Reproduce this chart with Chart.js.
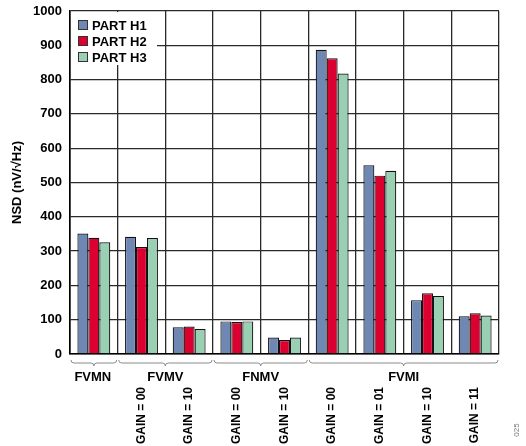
<!DOCTYPE html>
<html>
<head>
<meta charset="utf-8">
<script src="https://cdn.jsdelivr.net/npm/chart.js@4"></script>
<style>
    html, body { margin: 0; padding: 0; background: #fff; }
    #wrap { width: 526px; height: 446px; position: relative; }
</style>
</head>
<body>
<div id="wrap"><canvas id="myChart" width="526" height="446"></canvas></div>
<script>
// data
const categories = ['', 'GAIN = 00', 'GAIN = 10', 'GAIN = 00', 'GAIN = 10', 'GAIN = 00', 'GAIN = 01', 'GAIN = 10', 'GAIN = 11'];
const partH1 = [351, 342, 78, 95, 48, 887, 550, 157, 110];
const partH2 = [339, 312, 80, 93, 41, 862, 520, 177, 119];
const partH3 = [326, 338, 73, 95, 48, 818, 534, 169, 112];
const seriesNames = ['PART H1', 'PART H2', 'PART H3'];
const seriesColors = ['#6f88b3', '#dc0030', '#99cfb3'];

// mode groups under the axis (first / last category index)
const groupNames = ['FVMN', 'FVMV', 'FNMV', 'FVMI'];
const groupFirst = [0, 1, 3, 5];
const groupLast = [0, 2, 4, 8];

const yTicks = [0, 100, 200, 300, 400, 500, 600, 700, 800, 900, 1000];

const FONT = '"Liberation Sans", Arial, sans-serif';

// braces, group names, legend, figure number
const extras = {
    id: 'extras',
    afterDraw(chart) {
        const ctx = chart.ctx;
        const x = chart.scales.x;
        const area = chart.chartArea;
        const half = (x.getPixelForValue(1) - x.getPixelForValue(0)) / 2;

        ctx.save();
        // braces + group labels
        for (let i = 0; i < groupNames.length; i++) {
            const x0 = x.getPixelForValue(groupFirst[i]) - half + 1;
            const x1 = x.getPixelForValue(groupLast[i]) + half - 1;
            const xm = (x0 + x1) / 2;
            const yb = area.bottom + 9;
            ctx.strokeStyle = '#8a8a8a';
            ctx.lineWidth = 1;
            ctx.beginPath();
            ctx.moveTo(x0, yb - 3);
            ctx.quadraticCurveTo(x0, yb, x0 + 3, yb);
            ctx.lineTo(xm - 3, yb);
            ctx.quadraticCurveTo(xm, yb, xm, yb + 3);
            ctx.quadraticCurveTo(xm, yb, xm + 3, yb);
            ctx.lineTo(x1 - 3, yb);
            ctx.quadraticCurveTo(x1, yb, x1, yb - 3);
            ctx.stroke();

            ctx.fillStyle = '#000';
            ctx.font = 'bold 13px ' + FONT;
            ctx.textAlign = 'center';
            ctx.textBaseline = 'middle';
            let lx = xm;
            if (groupNames[i] === 'FVMN') lx = xm - 1;
            ctx.fillText(groupNames[i], lx, area.bottom + 23);
        }

        // legend box
        ctx.fillStyle = '#fff';
        ctx.fillRect(area.left + 1, area.top + 1, 86, 53);
        ctx.font = 'bold 13px ' + FONT;
        ctx.textAlign = 'left';
        ctx.textBaseline = 'middle';
        for (let i = 0; i < seriesNames.length; i++) {
            const cy = area.top + 14 + i * 16;
            ctx.fillStyle = seriesColors[i];
            ctx.fillRect(area.left + 8, cy - 5, 9, 9);
            ctx.strokeStyle = '#333';
            ctx.lineWidth = 1;
            ctx.strokeRect(area.left + 8.5, cy - 4.5, 9, 9);
            ctx.fillStyle = '#000';
            ctx.fillText(seriesNames[i], area.left + 22, cy + 1);
        }

        // figure number
        ctx.translate(517, 430);
        ctx.rotate(-Math.PI / 2);
        ctx.fillStyle = '#777';
        ctx.font = '8px ' + FONT;
        ctx.textAlign = 'center';
        ctx.fillText('025', 0, 0);
        ctx.restore();
    }
};

const dataOne = {
    labels: categories,
    datasets: [
        { label: seriesNames[0], data: partH1, backgroundColor: seriesColors[0] },
        { label: seriesNames[1], data: partH2, backgroundColor: seriesColors[1] },
        { label: seriesNames[2], data: partH3, backgroundColor: seriesColors[2] }
    ].map(d => Object.assign(d, {
        borderColor: '#111',
        borderWidth: 1.2,
        categoryPercentage: 0.69,
        barPercentage: 1.0
    }))
};

const config = {
    type: 'bar',
    data: dataOne,
    options: {
        responsive: false,
        animation: false,
        layout: { padding: { top: 11, right: 27, left: 0, bottom: 0 } },
        plugins: {
            legend: { display: false },
            tooltip: { enabled: false }
        },
        scales: {
            x: {
                grid: { color: '#2a2a2a', lineWidth: 1.3, drawTicks: false, offset: true },
                border: { color: '#000', width: 1.6 },
                ticks: {
                    color: '#000',
                    font: { family: FONT, size: 12, weight: 'bold' },
                    maxRotation: 90,
                    minRotation: 90,
                    padding: 33,
                    autoSkip: false
                },
                afterFit: s => { s.height = 92; s.paddingLeft = 0; s.paddingRight = 0; }
            },
            y: {
                min: 0,
                max: 1000,
                afterBuildTicks: s => { s.ticks = yTicks.map(v => ({ value: v })); },
                grid: { color: '#2a2a2a', lineWidth: 1.3, drawTicks: false },
                border: { color: '#000', width: 1.6 },
                ticks: {
                    color: '#000',
                    font: { family: FONT, size: 13, weight: 'bold' },
                    padding: 8,
                    callback: v => String(v)
                },
                title: {
                    display: true,
                    text: 'NSD (nV/√Hz)',
                    color: '#000',
                    font: { family: FONT, size: 13, weight: 'bold' },
                    padding: { top: 10, bottom: 0 }
                },
                afterFit: s => { s.width = 70; s.paddingTop = 0; s.paddingBottom = 0; }
            }
        }
    },
    plugins: [extras]
};

const myChart = new Chart(document.getElementById('myChart'), config);
</script>
</body>
</html>
